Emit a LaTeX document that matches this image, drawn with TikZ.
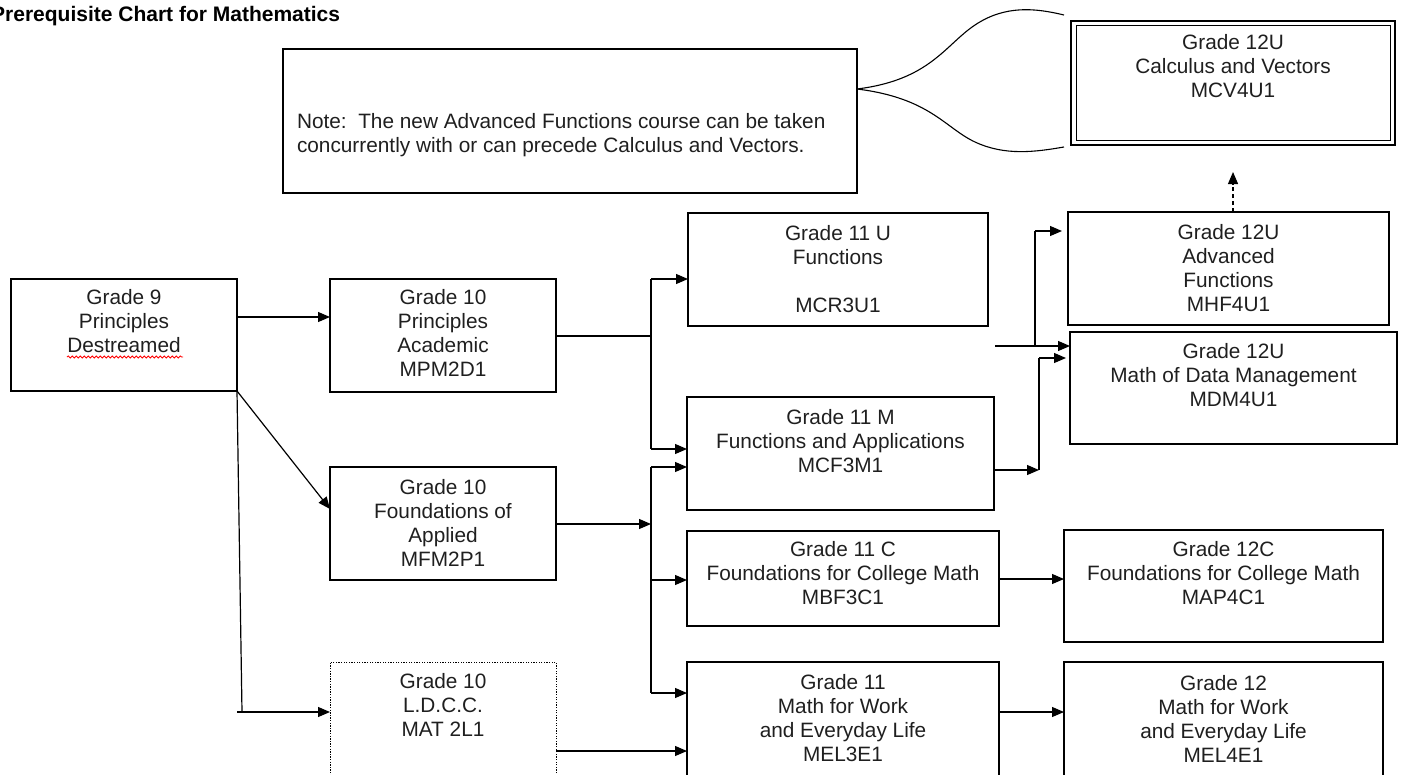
\documentclass[tikz,border=0pt]{standalone}
\usepackage{fontspec}
\setmainfont{Liberation Sans}
\usetikzlibrary{arrows.meta,decorations.pathmorphing}
\definecolor{txtgray}{rgb}{0.12,0.12,0.12}
\begin{document}
\begin{tikzpicture}[x=1bp,y=-1bp,
  ln/.style={line width=1.2bp, draw=black},
  arr/.style={ln, -{Triangle[length=12bp,width=10bp]}},
  course/.style={draw=black, line width=1.2bp, anchor=north west, inner sep=0pt, outer sep=0pt},
  txt/.style={anchor=north, align=center, inner sep=0pt, outer sep=0pt, text=txtgray,
    font=\fontsize{20.8bp}{24bp}\selectfont},
]
\useasboundingbox (0,0) rectangle (1403,774);
\clip (0,0) rectangle (1403,774);

% title
\node[anchor=base west, inner sep=0pt, font=\fontsize{21bp}{24bp}\selectfont\bfseries] (title)
  at (-9,22) {Prerequisite Chart for Mathematics};

% course boxes
\node[course, minimum width=226bp, minimum height=112bp] (g9)   at (11,279) {};
\node[course, minimum width=226bp, minimum height=113bp] (pa)   at (330,279) {};
\node[course, minimum width=226bp, minimum height=113bp] (fa)   at (330,467) {};
\node[course, minimum width=226bp, minimum height=140bp, line width=1bp,
      dash pattern=on 1.3bp off 1.3bp] (ld) at (330,662) {};
\node[course, minimum width=300bp, minimum height=113bp] (u11)  at (688,213) {};
\node[course, minimum width=307bp, minimum height=113bp] (m11)  at (687,397) {};
\node[course, minimum width=312bp, minimum height=95bp]  (c11)  at (687,531) {};
\node[course, minimum width=312bp, minimum height=140bp] (w11)  at (687,662) {};
\node[course, minimum width=321bp, minimum height=113bp] (af12) at (1068,212) {};
\node[course, minimum width=327bp, minimum height=112bp] (dm12) at (1070,332) {};
\node[course, minimum width=319bp, minimum height=112bp] (c12)  at (1064,530) {};
\node[course, minimum width=319bp, minimum height=140bp] (w12)  at (1064,662) {};
\node[course, minimum width=324bp, minimum height=124bp, line width=2.2bp] (cv12) at (1071,21) {};
\draw[line width=1bp] ([shift={(5bp,-5bp)}]cv12.north west) rectangle ([shift={(-5bp,5bp)}]cv12.south east);
\node[course, minimum width=574bp, minimum height=144bp] (note) at (283,49) {};

% box texts
\node[txt] (g9t)   at ([yshift=-10.5bp]g9.north)   {Grade 9\\Principles\\Destreamed};
\node[txt] (pat)   at ([yshift=-10.5bp]pa.north)   {Grade 10\\Principles\\Academic\\MPM2D1};
\node[txt] (fat)   at ([yshift=-12.5bp]fa.north)   {Grade 10\\Foundations of\\Applied\\MFM2P1};
\node[txt] (ldt)   at ([yshift=-11.5bp]ld.north)   {Grade 10\\L.D.C.C.\\MAT 2L1};
\node[txt] (u11t)  at ([yshift=-12.5bp]u11.north)  {Grade 11 U\\Functions\\[24bp]MCR3U1};
\node[txt] (m11t)  at ([yshift=-12.5bp]m11.north)  {Grade 11 M\\Functions and Applications\\MCF3M1};
\node[txt] (c11t)  at ([yshift=-10.5bp]c11.north)  {Grade 11 C\\Foundations for College Math\\MBF3C1};
\node[txt] (w11t)  at ([yshift=-12.5bp]w11.north)  {Grade 11\\Math for Work\\and Everyday Life\\MEL3E1};
\node[txt] (af12t) at ([yshift=-12.5bp]af12.north) {Grade 12U\\Advanced\\Functions\\MHF4U1};
\node[txt] (dm12t) at ([yshift=-11.5bp]dm12.north) {Grade 12U\\Math of Data Management\\MDM4U1};
\node[txt] (c12t)  at ([yshift=-11.5bp]c12.north)  {Grade 12C\\Foundations for College Math\\MAP4C1};
\node[txt] (w12t)  at ([yshift=-13.5bp]w12.north)  {Grade 12\\Math for Work\\and Everyday Life\\MEL4E1};
\node[txt] (cv12t) at ([yshift=-13.5bp]cv12.north) {Grade 12U\\Calculus and Vectors\\MCV4U1};
\node[txt, anchor=north west, align=left] (notet) at (297,113)
  {Note:\ \ The new Advanced Functions course can be taken\\concurrently with or can precede Calculus and Vectors.};

% spelling mark under "Destreamed"
\draw[red, line width=0.8bp, decorate, decoration={snake, segment length=4bp, amplitude=1.1bp}]
  (67,357) -- (183,357);

% junction points
\coordinate (g9a)  at (237,317);
\coordinate (fain) at (330,509);
\coordinate (g9v)  at (242,712);
\coordinate (g9h)  at (237,712);
\coordinate (pao)  at (556,336);
\coordinate (paj)  at (651,336);
\coordinate (pat1) at (651,279);
\coordinate (pab1) at (651,449);
\coordinate (fao)  at (556,524);
\coordinate (faj)  at (651,524);
\coordinate (fat1) at (651,467);
\coordinate (fac1) at (651,580);
\coordinate (fab1) at (651,693);
\coordinate (ldo)  at (556,751);
\coordinate (u11o) at (995,346);
\coordinate (u11j) at (1035,346);
\coordinate (u11k) at (1035,231);
\coordinate (m11o) at (994,470);
\coordinate (m11j) at (1039,470);
\coordinate (m11k) at (1039,358);
\coordinate (c11o) at (999,579);
\coordinate (w11o) at (999,712);
\coordinate (cvtip) at (1233,172);
\coordinate (nv)   at (857,89);
\coordinate (brt)  at (1064,15);
\coordinate (brb)  at (1064,147);

% grade 9 out
\draw[arr] (g9a) -- (g9a -| pa.west);
\draw[arr] (g9.south east) -- (fain);
\draw[ln] (g9.south east) -- (g9v);
\draw[arr] (g9h) -- (g9h -| ld.west);

% grade 10 out
\draw[ln] (pao) -- (paj);
\draw[ln] (pat1) -- (pab1);
\draw[arr] (pat1) -- (pat1 -| u11.west);
\draw[arr] (pab1) -- (pab1 -| m11.west);
\draw[arr] (fao) -- (faj);
\draw[ln] (fat1) -- (fab1);
\draw[arr] (fat1) -- (fat1 -| m11.west);
\draw[arr] (fac1) -- (fac1 -| c11.west);
\draw[arr] (fab1) -- (fab1 -| w11.west);
\draw[arr] (ldo) -- (ldo -| w11.west);

% grade 11 out
\draw[arr] (u11o) -- (u11o -| dm12.west);
\draw[ln] (u11j) -- (u11k);
\draw[arr, shorten >=6bp] (u11k) -- (u11k -| af12.west);
\draw[arr] (m11o) -- (m11j);
\draw[ln] (m11j) -- (m11k);
\draw[arr, shorten >=4bp] (m11k) -- (m11k -| dm12.west);
\draw[arr] (c11o) -- (c11o -| c12.west);
\draw[arr] (w11o) -- (w11o -| w12.west);

% advanced functions to calculus
\draw[arr, dash pattern=on 4bp off 3bp] (cvtip |- af12.north) -- (cvtip);

% callout brace from the note
\draw[ln, line width=1.1bp] (nv) .. controls (930,80) and (945,45) .. (975,25)
  .. controls (1005,5) and (1035,8) .. (brt);
\draw[ln, line width=1.1bp] (nv) .. controls (930,98) and (945,128) .. (975,142)
  .. controls (1005,156) and (1035,152) .. (brb);
\end{tikzpicture}
\end{document}
